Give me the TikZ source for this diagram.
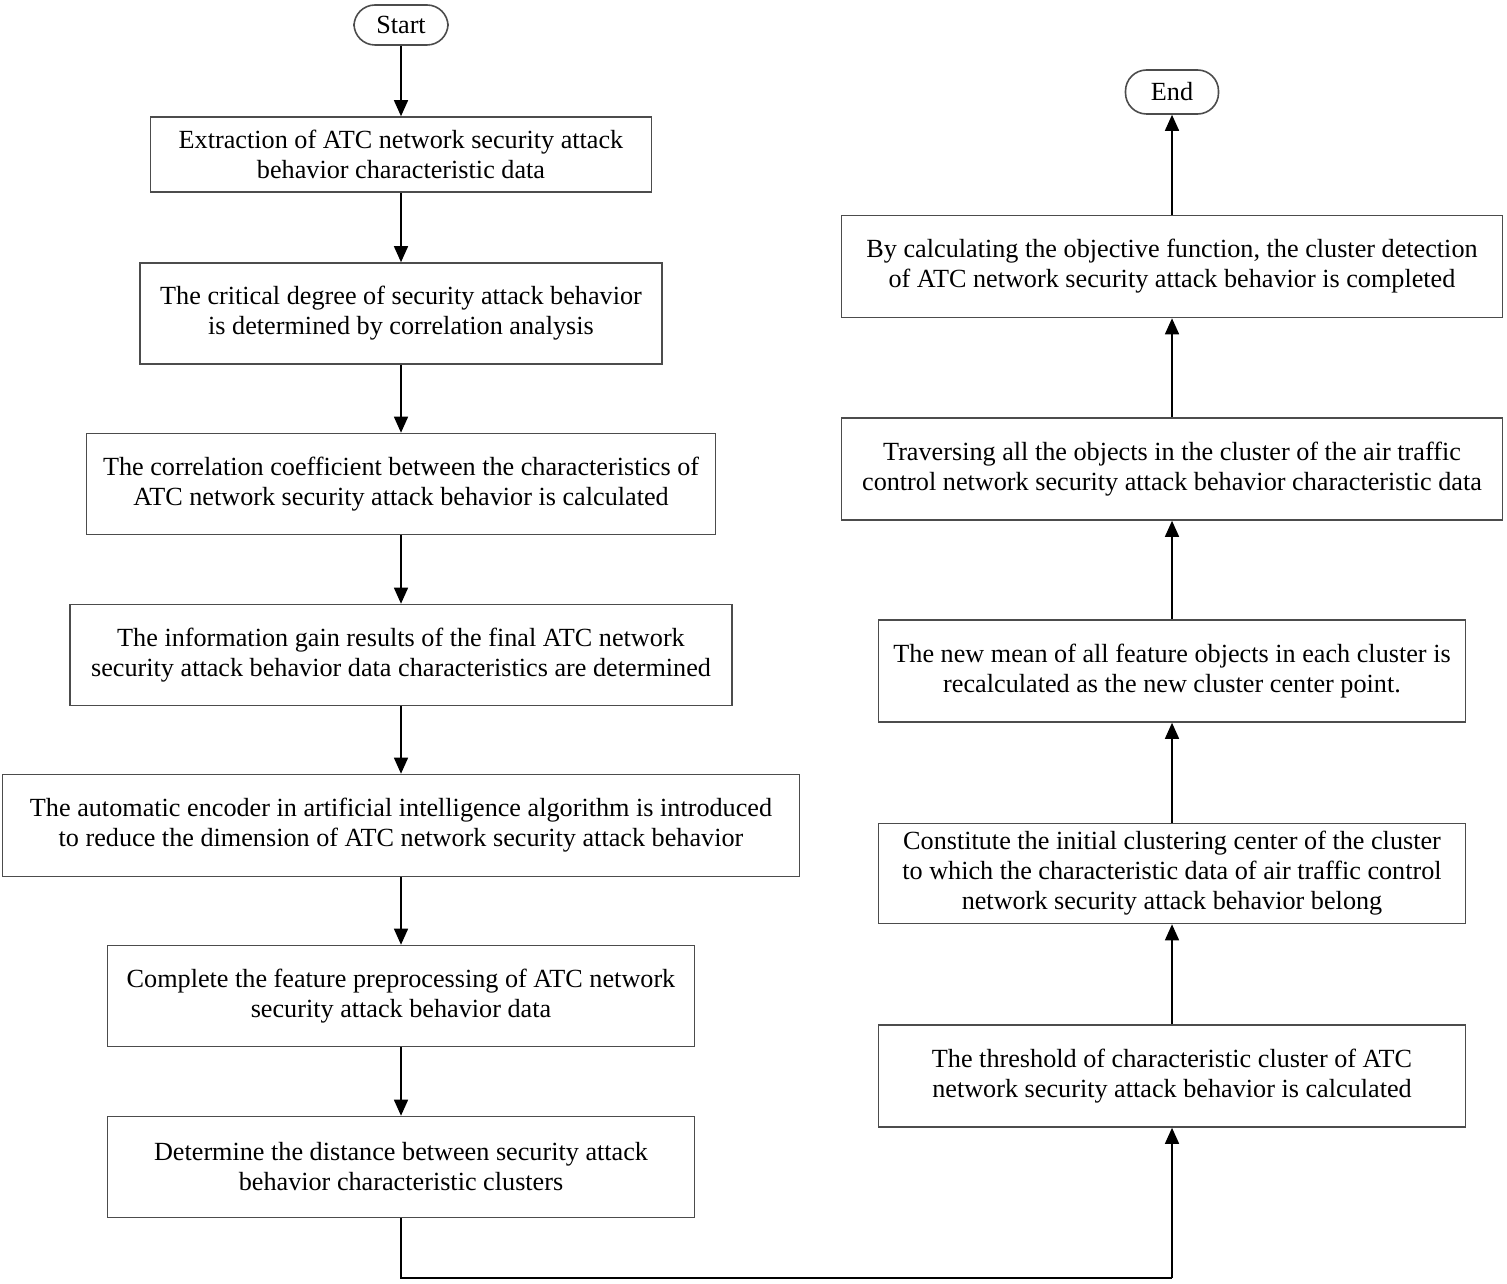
\documentclass[tikz,border=0pt]{standalone}
\usepackage{fontspec}
\setmainfont{Liberation Serif}
\usetikzlibrary{arrows.meta}
\tikzset{
  boxbase/.style={draw=black!70, line width=0.8pt, fill=white, inner sep=0pt, align=center,
    font=\fontsize{13.1}{15}\selectfont},
  bx/.style n args={2}{boxbase, minimum width=#1*0.5pt, minimum height=#2*0.5pt},
  term/.style n args={2}{boxbase, rounded corners=10.5pt, minimum width=#1*0.5pt, minimum height=#2*0.5pt},
  flow/.style={draw=black, line width=0.75pt, -{Triangle[length=8pt,width=7pt]}},
  plain/.style={draw=black, line width=0.75pt}
}
\begin{document}
\begin{tikzpicture}[x=0.5pt,y=-0.5pt]
\useasboundingbox (0,0) rectangle (1507,1283);
\node[term={94}{40}] (start) at (401,25) {Start};
\node[bx={501}{75}] (b1) at (401,154.5) {Extraction of ATC network security attack\\behavior characteristic data};
\node[bx={522}{101}] (b2) at (401,313.5) {The critical degree of security attack behavior\\is determined by correlation analysis};
\node[bx={629}{101}] (b3) at (401,484) {The correlation coefficient between the characteristics of\\ATC network security attack behavior is calculated};
\node[bx={662}{101}] (b4) at (401,655) {The information gain results of the final ATC network\\security attack behavior data characteristics are determined};
\node[bx={797}{102}] (b5) at (401,825.5) {The automatic encoder in artificial intelligence algorithm is introduced\\to reduce the dimension of ATC network security attack behavior};
\node[bx={587}{101}] (b6) at (401,996) {Complete the feature preprocessing of ATC network\\security attack behavior data};
\node[bx={587}{101}] (b7) at (401,1167) {Determine the distance between security attack\\behavior characteristic clusters};
\node[bx={587}{102}] (b8) at (1172,1076) {The threshold of characteristic cluster of ATC\\network security attack behavior is calculated};
\node[bx={587}{100}] (b9) at (1172,873.5) {Constitute the initial clustering center of the cluster\\to which the characteristic data of air traffic control\\network security attack behavior belong};
\node[bx={587}{102}] (b10) at (1172,671) {The new mean of all feature objects in each cluster is\\recalculated as the new cluster center point.};
\node[bx={661}{102}] (b11) at (1172,469) {Traversing all the objects in the cluster of the air traffic\\control network security attack behavior characteristic data};
\node[bx={661}{102}] (b12) at (1172,266.5) {By calculating the objective function, the cluster detection\\of ATC network security attack behavior is completed};
\node[term={93}{44}] (end) at (1172,92) {End};
\coordinate (c1) at (401,1278);
\coordinate (c2) at (1172,1278);
\draw[flow] (start) -- (b1);
\draw[flow] (b1) -- (b2);
\draw[flow] (b2) -- (b3);
\draw[flow] (b3) -- (b4);
\draw[flow] (b4) -- (b5);
\draw[flow] (b5) -- (b6);
\draw[flow] (b6) -- (b7);
\draw[plain] (b7.south) -- (c1) -- (c2);
\draw[flow] (c2) -- (b8.south);
\draw[flow] (b8) -- (b9);
\draw[flow] (b9) -- (b10);
\draw[flow] (b10) -- (b11);
\draw[flow] (b11) -- (b12);
\draw[flow] (b12) -- (end);
\end{tikzpicture}
\end{document}
